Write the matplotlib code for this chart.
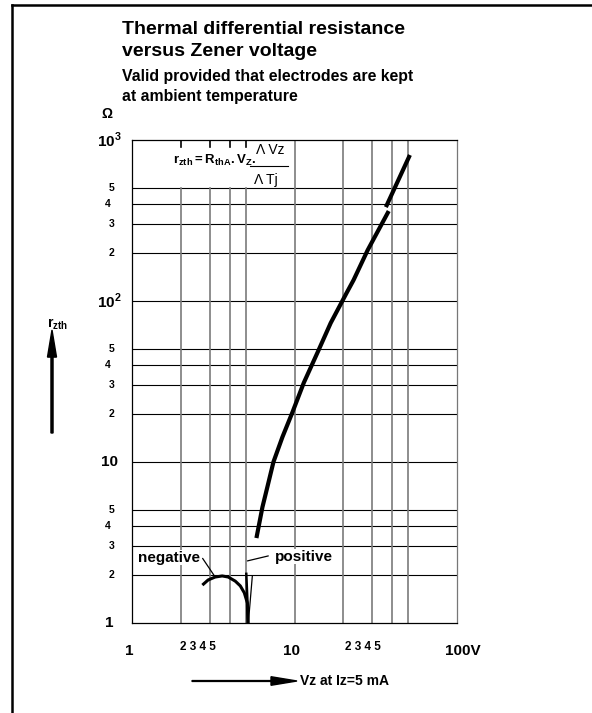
import matplotlib
matplotlib.use("Agg")
import matplotlib.pyplot as plt
from matplotlib.lines import Line2D

plt.rcParams["font.family"] = ["Liberation Sans", "DejaVu Sans"]
plt.rcParams["mathtext.fontset"] = "custom"
plt.rcParams["mathtext.rm"] = "Liberation Sans:bold"
plt.rcParams["mathtext.bf"] = "Liberation Sans:bold"

# curve (Vz in V, rzth in Ohm)
main_v = [5.83, 6.35, 6.81, 7.42, 8.43, 9.72, 11.4, 13.9, 16.7, 20.9, 23.1, 28.2, 38.0]
main_r = [3.37, 5.25, 7.0, 10.0, 14.3, 20.4, 31.0, 48.2, 73.0, 112, 135, 207, 362]
upper_v = [36.5, 51.3]
upper_r = [383, 807]
neg_v = [2.71, 2.94, 3.25, 3.59, 3.91, 4.32, 4.64, 4.91, 5.13, 5.16]
neg_r = [1.72, 1.85, 1.93, 1.96, 1.93, 1.82, 1.70, 1.54, 1.33, 1.0]
pos_v = [5.05, 5.2, 5.5]
pos_r = [2.02, 1.0, 1.95]

grid_x_short = [2, 3, 4, 5]
grid_x_full = [10, 20, 30, 40, 50]
grid_y = [2, 3, 4, 5, 10, 20, 30, 40, 50, 100, 200, 300, 400, 500]

y_minor = [5, 4, 3, 2]
y_minor_x = [-0.062, -0.074, -0.062, -0.062]
y_decades = [1000, 100, 10, 1]
y_decade_labels = [r"$10^3$", r"$10^2$", "10", "1"]

x_labels = ["1", "10", "100V"]
x_label_px = [129, 291, 463]

W, H = 592, 713
fig = plt.figure(figsize=(W / 100, H / 100), dpi=100)


def fx(px):
    return px / W


def fy(py):
    return 1 - py / H


ax = fig.add_axes([fx(132), fy(623), fx(457) - fx(132), fy(140) - fy(623)])
ax.set_xscale("log")
ax.set_yscale("log")
ax.set_xlim(1, 100)
ax.set_ylim(1, 1000)
ax.set_xticks([])
ax.set_yticks([])
ax.minorticks_off()
for s in ax.spines.values():
    s.set_linewidth(0.9)
    s.set_color("black")
ax.spines["right"].set_color("#777777")

gcol = "#7a7a7a"
for y in grid_y:
    ax.axhline(y, color="black", lw=0.8, zorder=1)
for x in grid_x_full:
    ax.axvline(x, color=gcol, lw=1.2, zorder=1)
for x in grid_x_short:
    # interrupted by the formula box at the top
    ax.plot([x, x], [1, 500], color=gcol, lw=1.2, zorder=1)
    ax.plot([x, x], [905, 1000], color="black", lw=1.2, zorder=1)

# curves
ax.plot(main_v, main_r, color="black", lw=3.0, solid_capstyle="butt", zorder=3)
ax.plot(upper_v, upper_r, color="black", lw=3.0, solid_capstyle="butt", zorder=3)
ax.plot(neg_v, neg_r, color="black", lw=2.2, solid_capstyle="butt", zorder=3)
ax.plot(pos_v[:2], pos_r[:2], color="black", lw=1.8, zorder=3)
ax.plot(pos_v[1:], pos_r[1:], color="black", lw=0.9, zorder=3)

# labels on curves
ax.text(2.62, 2.55, "negative", fontsize=11, fontweight="bold", ha="right", va="center",
        bbox=dict(fc="white", ec="none", pad=0.5), zorder=4)
ax.text(7.6, 2.58, "positive", fontsize=11, fontweight="bold", ha="left", va="center",
        bbox=dict(fc="white", ec="none", pad=0.5), zorder=4)
ax.annotate("", xy=(neg_v[2], neg_r[2]), xytext=(2.72, 2.52),
            arrowprops=dict(arrowstyle="-", lw=0.9, color="black", shrinkA=0, shrinkB=0), zorder=4)
ax.annotate("", xy=(5.13, 2.43), xytext=(6.9, 2.61),
            arrowprops=dict(arrowstyle="-", lw=0.9, color="black", shrinkA=0, shrinkB=0), zorder=4)

# formula
fig.text(fx(173), fy(160), r"$\mathbf{r_{zth}=R_{thA}.V_{Z}.}$", fontsize=9.5,
         ha="left", va="center")
fig.text(fx(256), fy(150), "Λ Vz", fontsize=10, ha="left", va="center")
fig.text(fx(254), fy(180), "Λ Tj", fontsize=10, ha="left", va="center")
fig.add_artist(Line2D([fx(250), fx(288)], [fy(166), fy(166)], color="black", lw=0.8))

# y tick labels
ytr = ax.get_yaxis_transform()
for k in (1000, 100, 10):
    for lab, xo in zip(y_minor, y_minor_x):
        ax.text(xo, lab * k / 10, str(lab), transform=ytr, fontsize=7.5,
                fontweight="bold", ha="center", va="center")
for val, lab in zip(y_decades, y_decade_labels):
    ax.text(-0.07, val, lab, transform=ytr, fontsize=11, fontweight="bold",
            ha="center", va="center")
fig.text(fx(107), fy(114), "Ω", fontsize=10, fontweight="bold", ha="center", va="center")

# x tick labels
for lab, px in zip(x_labels, x_label_px):
    fig.text(fx(px), fy(651), lab, fontsize=11, fontweight="bold", ha="center", va="center")
for px in (198, 363):
    fig.text(fx(px), fy(647), "2 3 4 5", fontsize=8.5, fontweight="bold",
             ha="center", va="center")

# axis arrows
fig.add_artist(matplotlib.patches.FancyArrow(fx(192), fy(681), fx(297) - fx(192), 0,
               width=0.0012, head_width=0.012, head_length=fx(26),
               length_includes_head=True, color="black", transform=fig.transFigure))
fig.text(fx(300), fy(681), "Vz at Iz=5 mA", fontsize=10, fontweight="bold",
         ha="left", va="center")
fig.add_artist(matplotlib.patches.FancyArrow(fx(52), fy(433), 0, fy(330) - fy(433),
               width=0.0035, head_width=fx(9), head_length=0.038,
               length_includes_head=True, color="black", transform=fig.transFigure))
fig.text(fx(47), fy(324), r"$\mathbf{r_{zth}}$", fontsize=10, ha="left", va="center")

# title
fig.text(fx(122), fy(30), "Thermal differential resistance", fontsize=14,
         fontweight="bold", ha="left", va="center")
fig.text(fx(122), fy(52), "versus Zener voltage", fontsize=14,
         fontweight="bold", ha="left", va="center")
fig.text(fx(122), fy(77), "Valid provided that electrodes are kept", fontsize=11.4,
         fontweight="bold", ha="left", va="center")
fig.text(fx(122), fy(97), "at ambient temperature", fontsize=11.4,
         fontweight="bold", ha="left", va="center")

# page frame
fig.add_artist(Line2D([fx(12), 1], [fy(5), fy(5)], color="black", lw=1.8))
fig.add_artist(Line2D([fx(12), fx(12)], [fy(5), 0], color="black", lw=1.8))

fig.savefig("out.png", dpi=100, facecolor="white")
